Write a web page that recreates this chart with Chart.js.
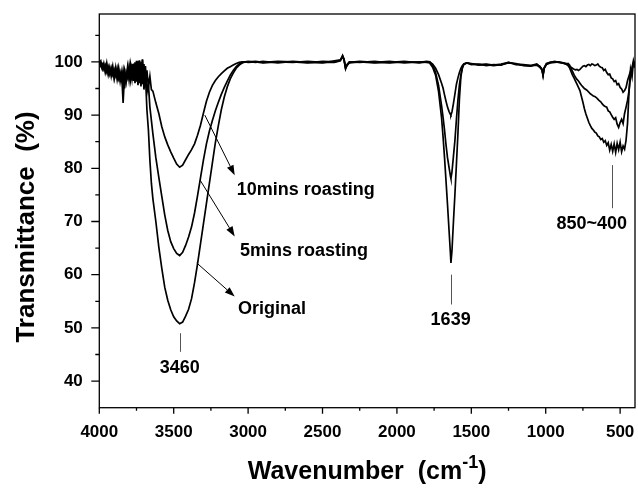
<!DOCTYPE html>
<html>
<head>
<meta charset="utf-8">
<title>FTIR spectra</title>
<script src="https://cdn.jsdelivr.net/npm/chart.js@4.4.1/dist/chart.umd.min.js"></script>
<style>
  body { margin: 0; background: #fff; }
  canvas { display: block; }
</style>
</head>
<body>
<canvas id="ftir-chart" width="638" height="488"></canvas>
<script>
// wavenumber grid (cm-1), shared by all three spectra
const wavenumbers = [
  4000, 3990, 3980, 3970, 3960, 3950, 3940, 3930, 3920, 3910, 3900, 3890, 3880, 3870, 3860, 3850, 3840, 3830,
  3820, 3810, 3800, 3790, 3780, 3770, 3760, 3750, 3740, 3730, 3720, 3710, 3700, 3690, 3680, 3670, 3660, 3650,
  3640, 3620, 3600, 3580, 3560, 3540, 3520, 3500, 3480, 3460, 3440, 3420, 3400, 3380, 3360, 3340, 3320,
  3300, 3280, 3260, 3240, 3220, 3200, 3180, 3160, 3140, 3120, 3100, 3080, 3060, 3040, 3020, 3000,
  2950, 2900, 2800, 2700, 2600, 2500, 2420, 2380, 2365, 2355, 2345, 2335, 2320, 2250, 2150, 2050, 1950, 1850, 1800,
  1780, 1760, 1740, 1720, 1700, 1690, 1680, 1670, 1660, 1650, 1640, 1637, 1630, 1620, 1610, 1600, 1590,
  1580, 1570, 1560, 1550, 1530,
  1500, 1450, 1400, 1350, 1300, 1250, 1200, 1150, 1100, 1060, 1040, 1025, 1018, 1010, 995, 970, 940, 910, 880, 860,
  850, 840, 830, 820, 810, 800, 790, 780, 770, 760, 750, 740, 730, 720, 710, 700, 690, 680, 670, 660,
  650, 640, 630, 620, 610, 600, 590, 580, 570, 560, 550, 540, 530, 520, 510, 500, 490, 480, 470, 460,
  450, 440, 430, 420, 410, 400
];

// transmittance (%)
const original = [
  100.0, 99.4, 98.6, 99.7, 98.0, 99.3, 97.6, 99.0, 97.3, 98.8, 97.0, 98.9, 96.7, 98.4, 96.3, 98.0, 92.3, 97.8,
  96.2, 99.0, 96.6, 99.4, 96.9, 99.7, 96.0, 100.2, 95.6, 100.3, 95.4, 100.4, 94.8, 97.5, 91.0, 87.2, 81.5, 77.2,
  74.3, 70.0, 65.2, 61.2, 57.6, 55.2, 53.4, 52.1, 51.3, 50.8, 51.1, 52.2, 53.5, 55.5, 58.5, 62.0, 65.8,
  69.6, 73.4, 77.2, 81.0, 84.8, 88.0, 91.0, 93.4, 95.3, 96.8, 97.9, 98.8, 99.4, 99.8, 100.0, 100.0,
  100.1, 99.9, 100.1, 100.0, 99.8, 100.1, 100.0, 100.3, 101.2, 100.5, 98.8, 99.3, 99.9, 100.1, 99.9, 100.1, 99.8, 100.0, 99.9,
  99.8, 99.0, 97.5, 94.4, 89.5, 86.0, 82.0, 77.6, 73.2, 68.5, 63.8, 62.2, 64.5, 70.0, 75.2, 80.8, 86.5,
  93.0, 97.2, 99.0, 99.6, 99.8,
  99.6, 99.4, 99.5, 99.3, 99.5, 99.8, 99.7, 99.3, 99.2, 99.5, 99.2, 98.6, 97.6, 98.8, 99.6, 99.9, 100.0, 99.9, 99.8, 99.5,
  99.3, 98.9, 98.2, 97.5, 97.0, 96.4, 95.8, 95.2, 94.6, 93.5, 92.4, 91.2, 90.2, 89.4, 88.6, 88.0, 87.5, 87.2, 86.8, 86.6,
  86.1, 85.9, 85.4, 85.6, 84.9, 85.2, 84.3, 84.8, 83.4, 84.5, 83.2, 84.6, 83.0, 84.7, 83.5, 84.9, 83.1, 84.2, 83.6, 85.3,
  88.5, 94.5, 98.6, 97.2, 100.2, 99.2
];

const roast5 = [
  99.8, 100.2, 98.9, 99.5, 98.3, 99.8, 97.9, 98.7, 97.8, 99.2, 96.9, 98.5, 97.1, 98.9, 96.8, 97.6, 95.3, 98.3,
  96.6, 98.7, 97.2, 99.8, 96.5, 99.4, 96.6, 99.9, 95.9, 100.1, 96.2, 100.5, 95.5, 99.2, 94.2, 95.8, 91.5, 89.0,
  86.5, 82.0, 78.3, 74.7, 71.2, 68.3, 66.2, 64.9, 64.0, 63.6, 64.2, 65.5, 67.1, 69.0, 71.6, 74.8, 78.2,
  81.6, 84.6, 87.0, 89.0, 90.8, 92.4, 93.9, 95.2, 96.4, 97.5, 98.4, 99.1, 99.6, 99.9, 100.0, 100.1,
  99.9, 100.1, 99.8, 100.1, 99.9, 99.8, 100.2, 100.4, 101.0, 100.3, 98.7, 99.5, 100.0, 99.9, 100.1, 99.8, 100.0, 99.9, 100.1,
  100.0, 99.4, 98.0, 95.6, 91.8, 89.6, 87.2, 84.4, 82.0, 80.2, 78.5, 78.1, 79.3, 82.3, 85.3, 89.2, 92.8,
  95.7, 97.6, 98.8, 99.5, 99.8,
  99.5, 99.6, 99.3, 99.5, 99.4, 99.9, 99.5, 99.4, 99.3, 99.4, 99.0, 98.5, 97.4, 98.9, 99.5, 99.8, 99.9, 100.0, 99.7, 99.6,
  99.7, 99.4, 98.8, 98.2, 97.6, 97.1, 96.7, 96.4, 96.0, 95.6, 95.3, 95.0, 94.8, 94.6, 94.3, 94.0, 93.8, 93.6, 93.5, 93.3,
  93.0, 92.7, 92.5, 92.1, 91.8, 91.6, 91.5, 90.8, 90.6, 90.1, 89.6, 89.2, 89.5, 88.3, 87.7, 88.6, 89.2, 88.4, 90.3, 91.5,
  92.8, 94.6, 97.2, 98.5, 99.8, 98.9
];

const roast10 = [
  100.1, 99.2, 99.6, 98.6, 99.4, 98.1, 99.1, 97.7, 98.9, 97.6, 98.6, 97.4, 98.8, 96.9, 98.1, 96.7, 98.4, 95.0,
  98.0, 97.0, 99.3, 96.7, 99.6, 96.4, 99.9, 96.3, 100.2, 96.0, 100.0, 95.8, 99.6, 95.6, 98.4, 95.2, 97.3, 94.8,
  94.5, 92.3, 90.3, 87.8, 85.9, 84.4, 83.1, 81.9, 80.8, 80.2, 80.6, 81.6, 82.6, 83.5, 84.6, 86.2, 88.1,
  90.4, 92.6, 94.3, 95.6, 96.5, 97.2, 97.8, 98.3, 98.8, 99.1, 99.4, 99.7, 99.9, 100.0, 100.0, 99.9,
  100.0, 99.8, 100.0, 99.9, 100.1, 99.9, 99.9, 100.2, 101.1, 100.4, 98.9, 99.4, 99.8, 100.0, 99.8, 99.9, 100.1, 99.8, 100.0,
  100.0, 99.6, 98.8, 97.6, 96.0, 95.1, 93.8, 92.6, 91.5, 90.7, 90.1, 90.0, 90.6, 92.2, 94.0, 95.8, 97.0,
  98.0, 98.8, 99.3, 99.6, 99.8,
  99.7, 99.5, 99.6, 99.4, 99.6, 99.9, 99.6, 99.5, 99.3, 99.6, 99.1, 98.6, 97.5, 98.9, 99.7, 99.9, 100.1, 99.9, 99.8, 99.7,
  99.6, 99.2, 99.0, 98.8, 98.6, 98.5, 98.6, 98.4, 98.6, 98.9, 99.2, 99.3, 99.1, 99.4, 99.5, 99.3, 99.6, 99.5, 99.3, 99.4,
  99.6, 99.2, 99.0, 98.9, 98.4, 98.6, 98.0, 97.6, 97.7, 97.0, 96.8, 96.3, 96.5, 95.7, 95.9, 95.2, 94.9, 94.3, 94.6, 95.2,
  96.5, 97.4, 98.3, 99.0, 100.1, 99.6
];

const xTicks = [4000, 3500, 3000, 2500, 2000, 1500, 1000, 500];
const xMinorTicks = [3750, 3250, 2750, 2250, 1750, 1250, 750];
const yTicks = [40, 50, 60, 70, 80, 90, 100];
const yMinorTicks = [45, 55, 65, 75, 85, 95, 105];

// band positions marked under the peaks (x in cm-1, y in %)
const peakMarks = [
  { wn: 3460, from: 49.0, to: 45.5, text: '3460', textWn: 3460, textY: 42.4 },
  { wn: 1639, from: 60.0, to: 54.4, text: '1639', textWn: 1639, textY: 51.4 },
  { wn: 556, from: 80.6, to: 72.5, text: '850~400', textWn: 690, textY: 69.6 }
];

// arrows pointing from each curve to its name
const curveNotes = [
  { text: '10mins roasting', tail: [3291, 90.0], head: [3090, 78.7], at: [3077, 75.9] },
  { text: '5mins roasting', tail: [3323, 77.8], head: [3090, 67.2], at: [3055, 64.4] },
  { text: 'Original', tail: [3345, 62.2], head: [3090, 55.9], at: [3068, 53.5] }
];

const FONT = '"Liberation Sans", Arial, sans-serif';

function toPoints(values) {
  return values.map((v, i) => ({ x: wavenumbers[i], y: v }));
}

function spectrum(label, values) {
  return {
    label: label,
    data: toPoints(values),
    borderColor: '#000',
    borderWidth: 1.7,
    pointRadius: 0,
    tension: 0,
    fill: false
  };
}

// frame, tick marks, axis titles and the annotations
const decorations = {
  id: 'decorations',
  afterDraw(chart) {
    const { ctx, chartArea: a } = chart;
    const x = chart.scales.x;
    const y = chart.scales.y;
    ctx.save();
    ctx.strokeStyle = '#000';
    ctx.fillStyle = '#000';
    ctx.lineWidth = 1.3;
    ctx.strokeRect(a.left, a.top, a.right - a.left, a.bottom - a.top);

    ctx.beginPath();
    xTicks.forEach(v => {
      const px = x.getPixelForValue(v);
      ctx.moveTo(px, a.bottom);
      ctx.lineTo(px, a.bottom + 6);
    });
    xMinorTicks.forEach(v => {
      const px = x.getPixelForValue(v);
      ctx.moveTo(px, a.bottom);
      ctx.lineTo(px, a.bottom + 3);
    });
    yTicks.forEach(v => {
      const py = y.getPixelForValue(v);
      ctx.moveTo(a.left, py);
      ctx.lineTo(a.left - 8, py);
    });
    yMinorTicks.forEach(v => {
      const py = y.getPixelForValue(v);
      ctx.moveTo(a.left, py);
      ctx.lineTo(a.left - 4, py);
    });
    ctx.stroke();

    // y title
    ctx.font = `bold 26px ${FONT}`;
    ctx.textAlign = 'center';
    ctx.textBaseline = 'middle';
    ctx.save();
    ctx.translate(27, 227);
    ctx.rotate(-Math.PI / 2);
    ctx.fillText('Transmittance  (%)', 0, 0);
    ctx.restore();

    // x title with superscript -1
    const titleFont = `bold 25px ${FONT}`;
    ctx.font = titleFont;
    ctx.textAlign = 'left';
    ctx.textBaseline = 'alphabetic';
    const head = 'Wavenumber  (cm';
    const sup = '-1';
    const tail = ')';
    const supFont = `bold 18px ${FONT}`;
    const wHead = ctx.measureText(head).width;
    const wTail = ctx.measureText(tail).width;
    ctx.font = supFont;
    const wSup = ctx.measureText(sup).width;
    let tx = (a.left + a.right) / 2 - (wHead + wSup + wTail) / 2;
    const base = 479;
    ctx.font = titleFont;
    ctx.fillText(head, tx, base);
    tx += wHead;
    ctx.font = supFont;
    ctx.fillText(sup, tx, base - 11);
    tx += wSup;
    ctx.font = titleFont;
    ctx.fillText(tail, tx, base);

    // peak markers
    ctx.strokeStyle = '#555';
    ctx.lineWidth = 1;
    ctx.font = `bold 18px ${FONT}`;
    ctx.textAlign = 'center';
    ctx.textBaseline = 'middle';
    peakMarks.forEach(m => {
      const px = Math.round(x.getPixelForValue(m.wn)) + 0.5;
      ctx.beginPath();
      ctx.moveTo(px, y.getPixelForValue(m.from));
      ctx.lineTo(px, y.getPixelForValue(m.to));
      ctx.stroke();
      ctx.fillText(m.text, x.getPixelForValue(m.textWn), y.getPixelForValue(m.textY));
    });

    // arrows and curve names
    ctx.strokeStyle = '#000';
    ctx.textAlign = 'left';
    curveNotes.forEach(n => {
      const x0 = x.getPixelForValue(n.tail[0]);
      const y0 = y.getPixelForValue(n.tail[1]);
      const x1 = x.getPixelForValue(n.head[0]);
      const y1 = y.getPixelForValue(n.head[1]);
      const ang = Math.atan2(y1 - y0, x1 - x0);
      const len = 10;
      const half = 3.6;
      const bx = x1 - len * Math.cos(ang);
      const by = y1 - len * Math.sin(ang);
      ctx.beginPath();
      ctx.moveTo(x0, y0);
      ctx.lineTo(bx, by);
      ctx.stroke();
      ctx.beginPath();
      ctx.moveTo(x1, y1);
      ctx.lineTo(bx + half * Math.sin(ang), by - half * Math.cos(ang));
      ctx.lineTo(bx - half * Math.sin(ang), by + half * Math.cos(ang));
      ctx.closePath();
      ctx.fill();
      ctx.fillText(n.text, x.getPixelForValue(n.at[0]), y.getPixelForValue(n.at[1]));
    });
    ctx.restore();
  }
};

const tickFont = { family: FONT, size: 17, weight: 'bold' };

// the tick labels must not push the plot area in from the edges
function fixX(s) {
  s.height = 80.3;
  s.paddingLeft = 0;
  s.paddingRight = 0;
}
function fixY(s) {
  s.width = 99.3;
  s.paddingTop = 0;
  s.paddingBottom = 0;
}

new Chart(document.getElementById('ftir-chart'), {
  type: 'line',
  data: {
    datasets: [
      spectrum('Original', original),
      spectrum('5mins roasting', roast5),
      spectrum('10mins roasting', roast10)
    ]
  },
  options: {
    responsive: false,
    animation: false,
    layout: { padding: { top: 14, right: 3, left: 0, bottom: 0 } },
    plugins: {
      legend: { display: false },
      tooltip: { enabled: false }
    },
    scales: {
      x: {
        type: 'linear',
        reverse: true,
        min: 400,
        max: 4000,
        afterBuildTicks: s => { s.ticks = xTicks.map(v => ({ value: v })); },
        afterFit: fixX,
        grid: { display: false, drawTicks: false },
        border: { display: false },
        ticks: {
          padding: 14.5,
          autoSkip: false,
          maxRotation: 0,
          color: '#000',
          font: tickFont,
          callback: v => String(v)
        }
      },
      y: {
        min: 35,
        max: 109,
        afterBuildTicks: s => { s.ticks = yTicks.map(v => ({ value: v })); },
        afterFit: fixY,
        grid: { display: false, drawTicks: false },
        border: { display: false },
        ticks: {
          padding: 16.5,
          autoSkip: false,
          color: '#000',
          font: tickFont,
          callback: v => String(v)
        }
      }
    }
  },
  plugins: [decorations]
});
</script>
</body>
</html>
